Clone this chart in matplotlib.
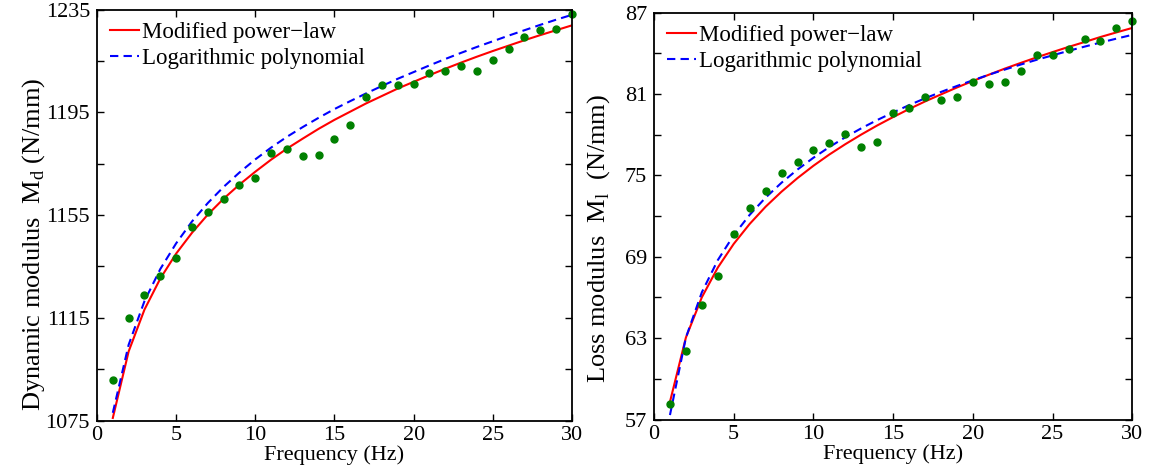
import matplotlib.pyplot as plt
import numpy as np

plt.rcParams['font.family'] = ['Liberation Serif', 'DejaVu Serif']
plt.rcParams['mathtext.fontset'] = 'custom'
plt.rcParams['mathtext.rm'] = 'Liberation Serif'

freq = list(range(1, 31))

# dynamic modulus (N/mm)
md_meas = [1090.8, 1114.8, 1123.8, 1131.3, 1138.4, 1150.5, 1156.1, 1161.4, 1166.8, 1169.6,
           1179.2, 1180.7, 1178.1, 1178.5, 1184.8, 1190.0, 1201.0, 1205.6, 1205.6, 1206.1,
           1210.3, 1211.1, 1213.0, 1211.3, 1215.5, 1219.5, 1224.2, 1227.2, 1227.6, 1233.3]
md_power = [1076.0, 1101.9, 1118.2, 1130.3, 1140.0, 1148.1, 1155.2, 1161.4, 1166.9, 1171.9,
            1176.6, 1180.9, 1184.8, 1188.6, 1192.1, 1195.3, 1198.5, 1201.4, 1204.3, 1206.9,
            1209.5, 1212.0, 1214.4, 1216.7, 1218.9, 1221.0, 1223.1, 1225.1, 1227.0, 1228.9]
md_logpoly = [1078.0, 1104.5, 1121.5, 1134.0, 1144.0, 1152.5, 1159.7, 1166.0, 1171.6, 1176.7,
              1181.3, 1185.5, 1189.3, 1192.9, 1196.3, 1199.4, 1202.4, 1205.3, 1208.1, 1210.7,
              1213.3, 1215.8, 1218.2, 1220.5, 1222.7, 1224.9, 1227.0, 1229.1, 1231.1, 1233.0]

# loss modulus (N/mm)
ml_meas = [58.14, 62.05, 65.46, 67.60, 70.65, 72.61, 73.84, 75.21, 76.00, 76.86,
           77.35, 78.02, 77.06, 77.45, 79.59, 79.98, 80.79, 80.52, 80.79, 81.89,
           81.70, 81.85, 82.70, 83.84, 83.86, 84.28, 85.06, 84.94, 85.85, 86.37]
ml_power = [58.30, 63.04, 66.01, 68.20, 69.95, 71.42, 72.69, 73.80, 74.80, 75.71,
            76.54, 77.30, 78.01, 78.68, 79.30, 79.89, 80.45, 80.97, 81.48, 81.96,
            82.42, 82.87, 83.29, 83.70, 84.09, 84.47, 84.83, 85.20, 85.54, 85.87]
ml_logpoly = [57.33, 63.04, 66.38, 68.75, 70.59, 72.09, 73.36, 74.46, 75.43, 76.30,
              77.09, 77.81, 78.47, 79.08, 79.64, 80.18, 80.68, 81.15, 81.59, 82.01,
              82.42, 82.80, 83.17, 83.52, 83.85, 84.18, 84.49, 84.79, 85.08, 85.36]

x_ticks = [0, 5, 10, 15, 20, 25, 30]
md_ticks = [1075, 1095, 1115, 1135, 1155, 1175, 1195, 1215, 1235]
md_labels = ['1075', '', '1115', '', '1155', '', '1195', '', '1235']
ml_ticks = [57, 60, 63, 66, 69, 72, 75, 78, 81, 84, 87]
ml_labels = ['57', '', '63', '', '69', '', '75', '', '81', '', '87']

fig = plt.figure(figsize=(11.49, 4.70), dpi=100)
ax1 = fig.add_axes([0.0844, 0.1053, 0.4134, 0.8741])
ax2 = fig.add_axes([0.5692, 0.1074, 0.4163, 0.8658])

panels = [
    (ax1, md_meas, md_power, md_logpoly, md_ticks, md_labels,
     'Dynamic modulus  M$_\\mathregular{d}$ (N/mm)', (-0.106, 0.43)),
    (ax2, ml_meas, ml_power, ml_logpoly, ml_ticks, ml_labels,
     'Loss modulus  M$_\\mathregular{l}$  (N/mm)', (-0.087, 0.445)),
]

for ax, meas, power, logpoly, yt, yl, ylabel, lpos in panels:
    ax.plot(freq, power, '-', color='red', lw=1.5, label='Modified power\u2212law')
    ax.plot(freq, logpoly, '--', color='blue', lw=1.5, dashes=(4, 2.5), label='Logarithmic polynomial')
    ax.plot(freq, meas, 'o', color='#008000', ms=5, mec='#008000', clip_on=False)
    ax.set_xlim(0, 30)
    ax.set_ylim(yt[0], yt[-1])
    ax.set_xticks(x_ticks)
    ax.set_yticks(yt)
    ax.set_yticklabels(yl)
    ax.tick_params(direction='in', top=True, right=True, length=5, width=1,
                   labelsize=16, pad=5)
    ax.tick_params(axis='x', pad=4)
    for s in ax.spines.values():
        s.set_linewidth(1.3)
    ax.set_xlabel('Frequency (Hz)', fontsize=16, labelpad=0)
    ax.set_ylabel(ylabel, fontsize=19)
    ax.yaxis.set_label_coords(*lpos)
    ax.legend(loc='upper left', frameon=False, fontsize=16.5, handlelength=1.3,
              handletextpad=0.1, borderaxespad=0.15, labelspacing=0.2)

fig.savefig('out.png', dpi=100)
